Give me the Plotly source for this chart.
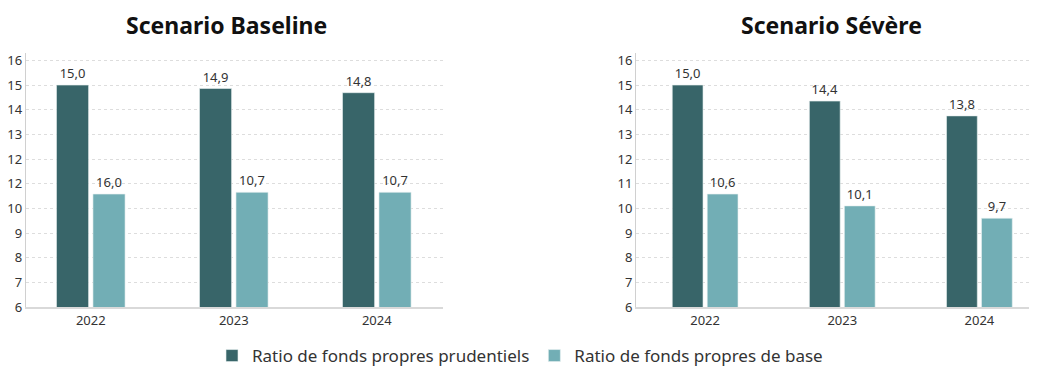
import plotly.graph_objects as go

years = ["2022", "2023", "2024"]
series_names = ["Ratio de fonds propres prudentiels", "Ratio de fonds propres de base"]

baseline_prud = [15.0, 14.86, 14.69]
baseline_base = [10.58, 10.65, 10.65]
baseline_prud_labels = ["15,0", "14,9", "14,8"]
baseline_base_labels = ["16,0", "10,7", "10,7"]

severe_prud = [15.0, 14.35, 13.75]
severe_base = [10.58, 10.1, 9.6]
severe_prud_labels = ["15,0", "14,4", "13,8"]
severe_base_labels = ["10,6", "10,1", "9,7"]

titles = ["Scenario Baseline", "Scenario Sévère"]
ytick_vals = [6, 7, 8, 9, 10, 11, 12, 13, 14, 15, 16]
ytick_left = ["6", "7", "8", "9", "10", "12", "12", "13", "14", "15", "16"]
ytick_right = ["6", "7", "8", "9", "10", "11", "12", "13", "14", "15", "16"]

DARK = "#386569"
LIGHT = "#72AEB5"
FONT = "Noto Sans"
TXT = "#333333"

# page body has an 8px default margin: the figure sits at (8, 8)
W, H = 1037, 369
OX, OY = 8, 8
FW, FH = W - OX, H - OY


def px(x):
    return (x - OX) / FW


def py(y):
    return 1 - (y - OY) / FH


fig = go.Figure()


def add_pair(prud, base, plab, blab, xa, ya, show):
    fig.add_trace(go.Bar(x=years, y=prud, name=series_names[0], marker_color=DARK,
                         marker_line=dict(color="#e8f0f0", width=0.6),
                         text=plab, textposition="outside", cliponaxis=False,
                         textfont=dict(size=13, color=TXT, family=FONT),
                         xaxis=xa, yaxis=ya, showlegend=show, legendgroup="a"))
    fig.add_trace(go.Bar(x=years, y=base, name=series_names[1], marker_color=LIGHT,
                         marker_line=dict(color="#e8f0f0", width=0.6),
                         text=blab, textposition="outside", cliponaxis=False,
                         textfont=dict(size=13, color=TXT, family=FONT),
                         xaxis=xa, yaxis=ya, showlegend=show, legendgroup="b"))


add_pair(baseline_prud, baseline_base, baseline_prud_labels, baseline_base_labels, "x", "y", True)
add_pair(severe_prud, severe_base, severe_prud_labels, severe_base_labels, "x2", "y2", False)

ydom = [py(307), py(53)]

yax_common = dict(range=[6, 16.3], tickvals=ytick_vals, showgrid=True, gridcolor="#dddddd",
                  griddash="dot", gridwidth=1, showline=True, linecolor="#d0d0d0", linewidth=1,
                  tickfont=dict(size=13, color=TXT, family=FONT), ticks="", zeroline=False,
                  domain=ydom, fixedrange=True, automargin=False)
xax_common = dict(showline=True, linecolor="#d9d9d9", linewidth=2, ticks="", showgrid=False,
                  tickfont=dict(size=13, color=TXT, family=FONT), type="category", automargin=False)

fig.update_layout(
    width=FW, height=FH,
    margin=dict(l=0, r=0, t=0, b=0, autoexpand=False),
    paper_bgcolor="white", plot_bgcolor="white",
    barmode="group", bargap=0.49, bargroupgap=0.12,
    font=dict(family=FONT, color=TXT),
    xaxis=dict(domain=[px(25.7), px(443)], range=[-0.455, 2.463], anchor="y", **xax_common),
    yaxis=dict(anchor="x", ticktext=ytick_left, **yax_common),
    xaxis2=dict(domain=[px(636), 1.0], range=[-0.504, 2.42], anchor="y2", **xax_common),
    yaxis2=dict(anchor="x2", ticktext=ytick_right, **yax_common),
    legend=dict(orientation="h", x=px(520), xanchor="center", y=py(356), yanchor="middle",
                font=dict(size=17, color=TXT, family=FONT), itemwidth=30, traceorder="normal"),
    annotations=[
        dict(text="<b>" + titles[0] + "</b>", x=px(226), y=1.0, xref="paper", yref="paper",
             showarrow=False, xanchor="center", yanchor="top", borderpad=0,
             font=dict(size=23, color="#111111", family=FONT)),
        dict(text="<b>" + titles[1] + "</b>", x=px(831), y=1.0, xref="paper", yref="paper",
             showarrow=False, xanchor="center", yanchor="top", borderpad=0,
             font=dict(size=23, color="#111111", family=FONT)),
    ],
)

fig.write_html("out.html")
